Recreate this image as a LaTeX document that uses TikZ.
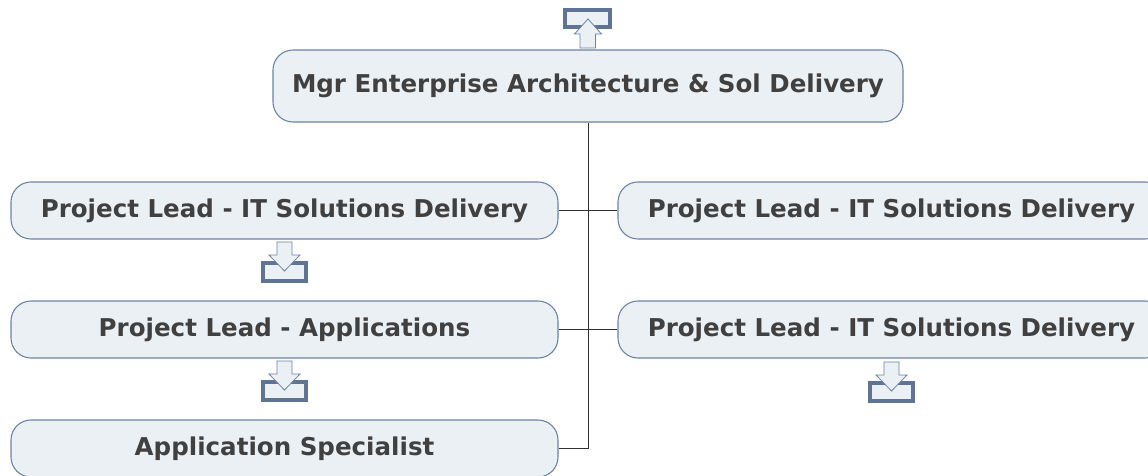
\documentclass[tikz,border=0pt]{standalone}
\usepackage{fontspec}
\setmainfont{DejaVu Sans}
\definecolor{boxfill}{HTML}{EBF0F4}
\definecolor{boxline}{HTML}{6C82A3}
\definecolor{txt}{HTML}{404040}
\definecolor{icoline}{HTML}{5F7494}
\definecolor{conn}{HTML}{303030}
\tikzset{
  box/.style={draw=boxline, fill=boxfill, line width=0.8pt, rounded corners=15pt,
    font=\bfseries\fontsize{18.4pt}{21pt}\selectfont, text=txt, inner sep=0pt},
  conline/.style={draw=conn, line width=0.7pt},
  trayrect/.style={draw=icoline, fill=boxfill, line width=3pt},
  arrowshape/.style={draw=boxline, fill=boxfill, line width=0.6pt}
}
\newcommand{\downicon}[2]{% center x, top y (px)
  \draw[trayrect] (#1-21.5,#2+21) rectangle (#1+21.5,#2+38.5);
  \draw[arrowshape] (#1-7.5,#2) -- (#1+7.5,#2) -- (#1+7.5,#2+13) -- (#1+15.5,#2+13)
    -- (#1,#2+29) -- (#1-15.5,#2+13) -- (#1-7.5,#2+13) -- cycle;
}
\begin{document}
\begin{tikzpicture}[x=0.75pt,y=-0.75pt]
\useasboundingbox (0,0) rectangle (1148,475);
\clip (0,0) rectangle (1148,475);
% nodes
\node[box, minimum width=472.5pt, minimum height=54pt] (top) at (588,86) {Mgr Enterprise Architecture \& Sol Delivery};
\node[box, minimum width=410.25pt, minimum height=42.75pt] (l1) at (284.5,210.5) {Project Lead - IT Solutions Delivery};
\node[box, minimum width=410.25pt, minimum height=42.75pt] (r1) at (891.5,210.5) {Project Lead - IT Solutions Delivery};
\node[box, minimum width=410.25pt, minimum height=42.75pt] (l2) at (284.5,329.5) {Project Lead - Applications};
\node[box, minimum width=410.25pt, minimum height=42.75pt] (r2) at (891.5,329.5) {Project Lead - IT Solutions Delivery};
\node[box, minimum width=410.25pt, minimum height=42.75pt] (l3) at (284.5,448.5) {Application Specialist};
% connectors
\coordinate (j3) at (588,448.5);
\draw[conline] (top.south) -- (j3);
\draw[conline] (l1.east) -- (r1.west);
\draw[conline] (l2.east) -- (r2.west);
\draw[conline] (l3.east) -- (j3);
% top icon (up)
\draw[trayrect] (565,10) rectangle (609.5,26.5);
\draw[arrowshape] (580,48) -- (595.5,48) -- (595.5,34) -- (601.5,34) -- (588,19) -- (574.5,34) -- (580,34) -- cycle;
% down icons
\downicon{284.5}{242}
\downicon{284.5}{361}
\downicon{891.5}{362}
\end{tikzpicture}
\end{document}
